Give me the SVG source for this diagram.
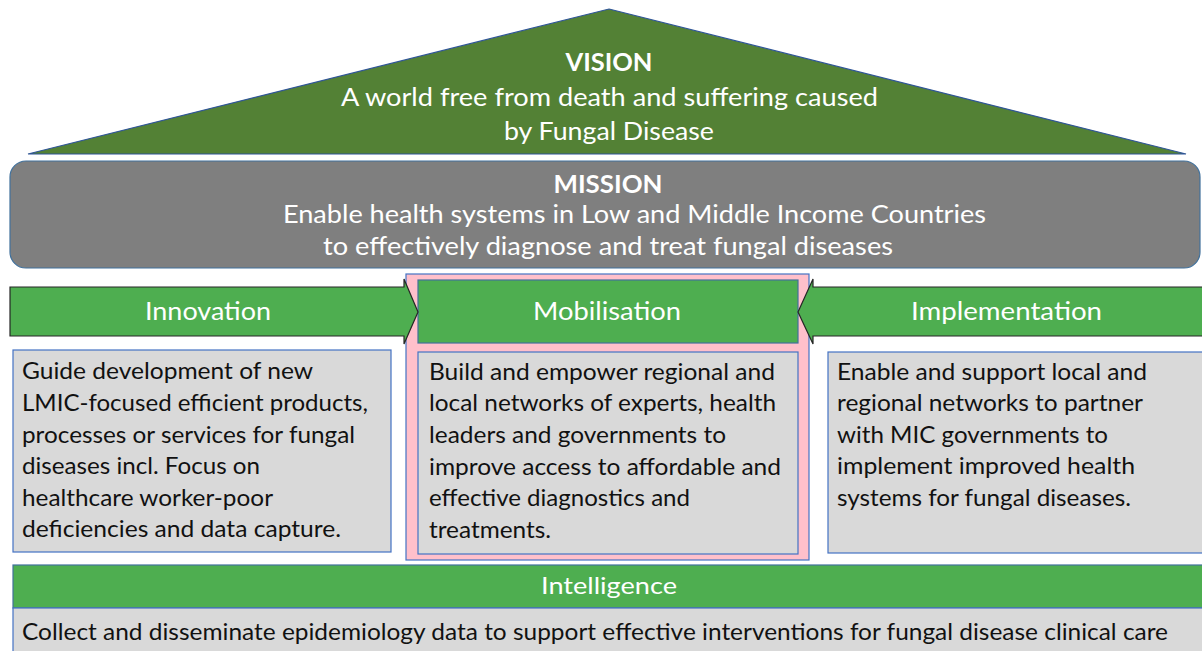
<svg xmlns="http://www.w3.org/2000/svg" width="1202" height="651" viewBox="0 0 1202 651">
  <style>
    .hdr { font-family: Lato, "Open Sans", "Liberation Sans", sans-serif; fill: #ffffff; text-anchor: middle; }
    .b { font-weight: bold; }
    .body { font-family: Lato, "Open Sans", "Liberation Sans", sans-serif; font-size: 22.5px; fill: #111111; }
    .greenbar { fill: #4EAE50; stroke: #41719C; stroke-width: 1.2; }
    .arrow { fill: #4EAE50; stroke: #262626; stroke-width: 1.2; }
    .card { fill: #D9D9D9; stroke: #4472C4; stroke-width: 1.2; }
  </style>

  <rect width="1202" height="651" fill="#ffffff"/>

  <!-- Vision roof -->
  <g id="vision">
    <polygon points="609,9 1186,154 28,154" fill="#538135" stroke="#2F5597" stroke-width="1.2"/>
    <text class="hdr b" x="609" y="71" font-size="24.5" textLength="87" lengthAdjust="spacingAndGlyphs">VISION</text>
    <text class="hdr" x="609.5" y="106" font-size="24.5" textLength="537" lengthAdjust="spacingAndGlyphs">A world free from death and suffering caused</text>
    <text class="hdr" x="609" y="140" font-size="24.5" textLength="210" lengthAdjust="spacingAndGlyphs">by Fungal Disease</text>
  </g>

  <!-- Mission band -->
  <g id="mission">
    <rect x="10" y="161" width="1190" height="107" rx="16" fill="#7F7F7F" stroke="#41719C" stroke-width="1.2"/>
    <text class="hdr b" x="608" y="193" font-size="24.5" textLength="109" lengthAdjust="spacingAndGlyphs">MISSION</text>
    <text class="hdr" x="634.5" y="223" font-size="24.5" textLength="703" lengthAdjust="spacingAndGlyphs">Enable health systems in Low and Middle Income Countries</text>
    <text class="hdr" x="608" y="255" font-size="24.5" textLength="570" lengthAdjust="spacingAndGlyphs">to effectively diagnose and treat fungal diseases</text>
  </g>

  <!-- Innovation pillar -->
  <g id="innovation">
    <rect class="card" x="13" y="350" width="378" height="202"/>
    <text class="body" x="22" y="379" textLength="291" lengthAdjust="spacingAndGlyphs">Guide development of new</text>
    <text class="body" x="22" y="411" textLength="346" lengthAdjust="spacingAndGlyphs">LMIC-focused efficient products,</text>
    <text class="body" x="22" y="443" textLength="333" lengthAdjust="spacingAndGlyphs">processes or services for fungal</text>
    <text class="body" x="22" y="474" textLength="238" lengthAdjust="spacingAndGlyphs">diseases incl. Focus on</text>
    <text class="body" x="22" y="506" textLength="251" lengthAdjust="spacingAndGlyphs">healthcare worker-poor</text>
    <text class="body" x="22" y="537" textLength="319" lengthAdjust="spacingAndGlyphs">deficiencies and data capture.</text>
  </g>

  <!-- Mobilisation pillar -->
  <g id="mobilisation">
    <rect x="406" y="274" width="403" height="286" fill="#FFC0CB" stroke="#4472C4" stroke-width="1.2"/>
    <rect class="greenbar" x="418" y="280" width="380" height="63"/>
    <text class="hdr" x="607" y="320" font-size="24.5" textLength="148" lengthAdjust="spacingAndGlyphs">Mobilisation</text>
    <rect class="card" x="418" y="352" width="380" height="202"/>
    <text class="body" x="429" y="380" textLength="346" lengthAdjust="spacingAndGlyphs">Build and empower regional and</text>
    <text class="body" x="429" y="411" textLength="347" lengthAdjust="spacingAndGlyphs">local networks of experts, health</text>
    <text class="body" x="429" y="443" textLength="297" lengthAdjust="spacingAndGlyphs">leaders and governments to</text>
    <text class="body" x="429" y="475" textLength="352" lengthAdjust="spacingAndGlyphs">improve access to affordable and</text>
    <text class="body" x="429" y="506" textLength="261" lengthAdjust="spacingAndGlyphs">effective diagnostics and</text>
    <text class="body" x="429" y="538" textLength="122" lengthAdjust="spacingAndGlyphs">treatments.</text>
  </g>

  <!-- Implementation pillar -->
  <g id="implementation">
    <rect class="card" x="828" y="352" width="380" height="201"/>
    <text class="body" x="837" y="380" textLength="310" lengthAdjust="spacingAndGlyphs">Enable and support local and</text>
    <text class="body" x="837" y="411" textLength="306" lengthAdjust="spacingAndGlyphs">regional networks to partner</text>
    <text class="body" x="837" y="443" textLength="271" lengthAdjust="spacingAndGlyphs">with MIC governments to</text>
    <text class="body" x="837" y="474" textLength="298" lengthAdjust="spacingAndGlyphs">implement improved health</text>
    <text class="body" x="837" y="506" textLength="294" lengthAdjust="spacingAndGlyphs">systems for fungal diseases.</text>
  </g>

  <!-- Side arrows feeding the centre pillar -->
  <g id="connectors">
    <polygon class="arrow" points="10,287 404,287 404,279 418,312 404,344 404,336 10,336"/>
    <polygon class="arrow" points="1212,287 813,287 813,279 798,312 813,344 813,336 1212,336"/>
    <text class="hdr" x="208" y="320" font-size="24.5" textLength="126" lengthAdjust="spacingAndGlyphs">Innovation</text>
    <text class="hdr" x="1006.5" y="320" font-size="24.5" textLength="191" lengthAdjust="spacingAndGlyphs">Implementation</text>
  </g>

  <!-- Intelligence foundation -->
  <g id="intelligence">
    <rect class="greenbar" x="13" y="565" width="1200" height="43"/>
    <text class="hdr" x="609" y="594" font-size="24" textLength="136" lengthAdjust="spacingAndGlyphs">Intelligence</text>
    <rect class="card" x="13" y="608" width="1200" height="50"/>
    <text class="body" x="22" y="640" textLength="1146" lengthAdjust="spacingAndGlyphs">Collect and disseminate epidemiology data to support effective interventions for fungal disease clinical care</text>
  </g>
</svg>
